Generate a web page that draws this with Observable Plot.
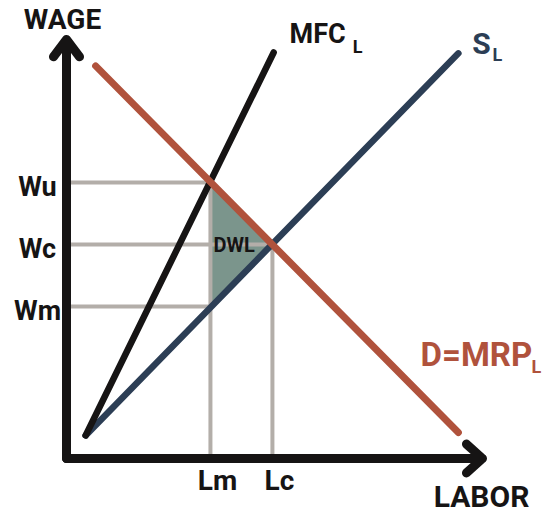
<!DOCTYPE html>
<html><head><meta charset="utf-8">
<style>html,body{margin:0;padding:0;background:#fff;}</style>
<script src="https://cdn.jsdelivr.net/npm/d3@7"></script>
<script src="https://cdn.jsdelivr.net/npm/@observablehq/plot@0.6"></script>
</head><body><div id="chart"></div>
<script>
// ---- data (axis units 0..10) ----
const xDomain = [0, 10];
const yDomain = [0, 10];
const xTicks = [3.46, 4.95];
const xTickLabels = ["Lm", "Lc"];
const yTicks = [3.63, 5.11, 6.59];
const yTickLabels = ["Wm", "Wc", "Wu"];
const mfcX = [0.46, 4.98];
const mfcY = [0.55, 9.69];
const supplyX = [0.46, 9.42];
const supplyY = [0.55, 9.67];
const demandX = [0.70, 9.42];
const demandY = [9.37, 0.62];
const curveNames = ["MFC", "S", "D=MRP"];
const curveSub = "L";
const axisTitles = ["WAGE", "LABOR"];
const areaLabel = "DWL";

// ---- derived tables ----
const [Lm, Lc] = xTicks;
const [Wm, Wc, Wu] = yTicks;
const pts = (xs, ys) => xs.map((x, i) => ({x, y: ys[i]}));
const mfc = pts(mfcX, mfcY);
const supply = pts(supplyX, supplyY);
const demand = pts(demandX, demandY);
const tri = [{x: Lm, y1: Wm, y2: Wu}, {x: Lc, y1: Wc, y2: Wc}];
const triCentroid = [{x: (Lm + Lc + Lm) / 3, y: (Wu + Wc + Wm) / 3}];
const hGuides = [{y: Wu, x2: Lm}, {y: Wc, x2: Lc}, {y: Wm, x2: Lm}];
const vGuides = [{x: Lm, y2: Wu}, {x: Lc, y2: Wc}];
const yAxisArrow = [{x1: xDomain[0], y1: yDomain[0], x2: xDomain[0], y2: yDomain[1]}];
const xAxisArrow = [{x1: xDomain[0], y1: yDomain[0], x2: xDomain[1], y2: yDomain[0]}];

const font = "Roboto,'Liberation Sans',sans-serif";
const INK = "#161414", NAVY = "#2c3e55", RUST = "#b0523c", GRAY = "#b3aea9", DWLC = "#7b958c";
const txt = (data, o) => Plot.text(data, {fontFamily: font, fontWeight: "bold", ...o});

const chart = Plot.plot({
  width: 544, height: 516,
  marginLeft: 66, marginRight: 62, marginTop: 39, marginBottom: 58,
  x: {domain: xDomain, axis: null},
  y: {domain: yDomain, axis: null},
  style: {background: "#fff", overflow: "visible"},
  marks: [
    Plot.areaY(tri, {x: "x", y1: "y1", y2: "y2", fill: DWLC}),
    Plot.ruleY(hGuides, {y: "y", x1: xDomain[0], x2: "x2", stroke: GRAY, strokeWidth: 4}),
    Plot.ruleX(vGuides, {x: "x", y1: yDomain[0], y2: "y2", stroke: GRAY, strokeWidth: 4}),
    Plot.line(supply, {x: "x", y: "y", stroke: NAVY, strokeWidth: 6.5, strokeLinecap: "round"}),
    Plot.line(mfc, {x: "x", y: "y", stroke: INK, strokeWidth: 6.5, strokeLinecap: "round"}),
    Plot.line(demand, {x: "x", y: "y", stroke: RUST, strokeWidth: 7, strokeLinecap: "round"}),
    Plot.arrow(yAxisArrow, {x1: "x1", y1: "y1", x2: "x2", y2: "y2", stroke: INK, strokeWidth: 9,
      headLength: 3.6, headAngle: 74, strokeLinecap: "round", strokeLinejoin: "round"}),
    Plot.arrow(xAxisArrow, {x1: "x1", y1: "y1", x2: "x2", y2: "y2", stroke: INK, strokeWidth: 9,
      headLength: 3.6, headAngle: 84, strokeLinecap: "round", strokeLinejoin: "round"}),
    // tick labels
    txt(yTicks, {x: xDomain[0], y: d => d, text: (d, i) => yTickLabels[i], dx: -29, dy: 5, fontSize: 27, fill: INK}),
    txt(xTicks, {x: d => d, y: yDomain[0], text: (d, i) => xTickLabels[i], dx: 7, dy: 23, fontSize: 28, fill: INK}),
    // axis titles
    txt([yAxisArrow[0]], {x: "x2", y: "y2", text: () => axisTitles[0], dx: -4, dy: -19, fontSize: 28, fill: INK}),
    txt([xAxisArrow[0]], {x: "x2", y: "y2", text: () => axisTitles[1], dx: -1, dy: 39, fontSize: 30, fill: INK}),
    // curve labels
    txt([mfc[1]], {x: "x", y: "y", text: () => curveNames[0], dx: 44, dy: -18, fontSize: 27, fill: INK}),
    txt([mfc[1]], {x: "x", y: "y", text: () => curveSub, dx: 84, dy: -5, fontSize: 18, fill: INK}),
    txt([supply[1]], {x: "x", y: "y", text: () => curveNames[1], dx: 23, dy: -9, fontSize: 30, fill: NAVY}),
    txt([supply[1]], {x: "x", y: "y", text: () => curveSub, dx: 39, dy: 2, fontSize: 18, fill: NAVY}),
    txt([demand[1]], {x: "x", y: "y", text: () => curveNames[2], dx: 18, dy: -77, fontSize: 33, fill: RUST}),
    txt([demand[1]], {x: "x", y: "y", text: () => curveSub, dx: 78, dy: -65, fontSize: 18, fill: RUST}),
    // DWL
    txt(triCentroid, {x: "x", y: "y", text: () => areaLabel, dx: 3, dy: 1, fontSize: 20, fill: INK})
  ]
});
document.getElementById("chart").appendChild(chart);
</script>
</body></html>
